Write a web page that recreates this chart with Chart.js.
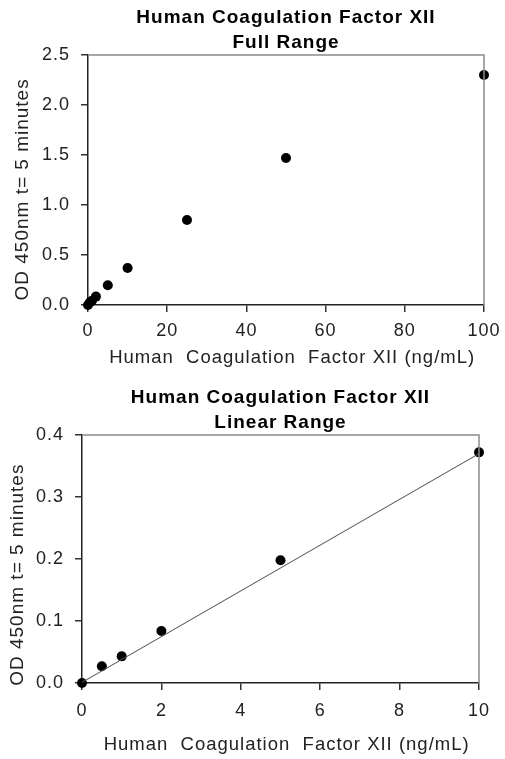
<!DOCTYPE html>
<html>
<head>
<meta charset="utf-8">
<script src="https://cdn.jsdelivr.net/npm/chart.js@4/dist/chart.umd.min.js"></script>
<style>
  html, body { margin: 0; padding: 0; background: #fff; }
  canvas { display: block; }
</style>
</head>
<body>
<canvas id="full" width="505" height="380"></canvas>
<canvas id="linear" width="505" height="379"></canvas>
<script>
// data
const fullConc = [0, 0.5, 1, 2, 5, 10, 25, 50, 100];
const fullOD = [0.0, 0.027, 0.043, 0.084, 0.198, 0.37, 0.85, 1.47, 2.30];

const linConc = [0, 0.5, 1, 2, 5, 10];
const linOD = [0.0, 0.027, 0.043, 0.084, 0.198, 0.372];

const trendConc = [0, 10];
const trendOD = [0.001, 0.370];

const xTitle = "Human  Coagulation  Factor XII (ng/mL)";
const yTitle = "OD 450nm t= 5 minutes";

const FONT = "'Liberation Sans', Arial, sans-serif";

function pts(xs, ys) {
  return xs.map((x, i) => ({ x: x, y: ys[i] }));
}

// reference text is a bit spread out, and the plot box has a grey top/right edge
const boxPlugin = {
  id: "box",
  beforeDraw(chart) {
    chart.ctx.letterSpacing = "1px";
  },
  afterDraw(chart) {
    const a = chart.chartArea;
    const ctx = chart.ctx;
    ctx.save();
    ctx.strokeStyle = "#8a8a8a";
    ctx.lineWidth = 1.5;
    ctx.beginPath();
    ctx.moveTo(a.left, a.top);
    ctx.lineTo(a.right, a.top);
    ctx.lineTo(a.right, a.bottom);
    ctx.stroke();
    ctx.restore();
  }
};

function makeChart(id, cfg) {
  const ctx = document.getElementById(id).getContext("2d");
  return new Chart(ctx, {
    type: "scatter",
    data: { datasets: cfg.datasets },
    plugins: [boxPlugin],
    options: {
      responsive: false,
      animation: false,
      devicePixelRatio: 1,
      layout: { padding: { left: 0, right: cfg.padRight, top: 0, bottom: 0 } },
      plugins: {
        legend: { display: false },
        tooltip: { enabled: false },
        title: {
          display: true,
          fullSize: false,
          text: cfg.title,
          color: "#000",
          font: { family: FONT, size: 19, weight: "bold", lineHeight: 1.316 },
          padding: { top: cfg.titleTop, bottom: 0 }
        }
      },
      scales: {
        x: {
          type: "linear",
          min: cfg.xMin, max: cfg.xMax,
          afterFit(s) {
            s.height = cfg.xHeight;
            s.paddingLeft = 0; s.paddingRight = 0;
          },
          ticks: {
            stepSize: cfg.xStep,
            color: "#222",
            padding: cfg.xTickPad,
            font: { family: FONT, size: 18 },
            maxRotation: 0
          },
          grid: { drawOnChartArea: false, drawTicks: true, tickLength: 7, tickColor: "#333", lineWidth: 1.5 },
          border: { display: true, color: "#222", width: 1.5 },
          title: {
            display: true,
            // leading spaces nudge the centred title right, as in the reference
            text: "  " + xTitle,
            color: "#222",
            font: { family: FONT, size: 18.5 },
            padding: { top: 0, bottom: cfg.xTitleBottom }
          }
        },
        y: {
          type: "linear",
          min: 0, max: cfg.yMax,
          afterFit(s) {
            s.width = cfg.yWidth;
            s.paddingTop = 0; s.paddingBottom = 0;
          },
          ticks: {
            stepSize: cfg.yStep,
            color: "#222",
            padding: 11,
            font: { family: FONT, size: 18 },
            callback: v => v.toFixed(1)
          },
          grid: { drawOnChartArea: false, drawTicks: true, tickLength: 7, tickColor: "#333", lineWidth: 1.5 },
          border: { display: true, color: "#222", width: 1.5 },
          title: {
            display: true,
            // trailing spaces nudge the rotated title down
            text: yTitle + " ".repeat(cfg.yTitleShift),
            color: "#222",
            font: { family: FONT, size: 19 },
            padding: { top: cfg.yTitleLeft, bottom: 0 }
          }
        }
      }
    }
  });
}

const dots = (xs, ys) => ({
  data: pts(xs, ys),
  showLine: false,
  pointRadius: 5,
  pointBackgroundColor: "#000",
  pointBorderColor: "#000",
  pointBorderWidth: 0,
  clip: false
});

makeChart("full", {
  title: ["Human Coagulation Factor XII", "Full Range"],
  titleTop: 5,
  datasets: [dots(fullConc, fullOD)],
  xMin: 0, xMax: 100, xStep: 20,
  yMax: 2.5, yStep: 0.5,
  padRight: 21,
  xHeight: 75,
  xTickPad: 8,
  xTitleBottom: 11,
  yWidth: 88,
  yTitleLeft: 11,
  yTitleShift: 3
});

makeChart("linear", {
  title: ["Human Coagulation Factor XII", "Linear Range"],
  titleTop: 5,
  datasets: [
    {
      data: pts(trendConc, trendOD),
      showLine: true,
      borderColor: "#555",
      borderWidth: 1.1,
      pointRadius: 0,
      clip: false
    },
    dots(linConc, linOD)
  ],
  xMin: 0, xMax: 10, xStep: 2,
  yMax: 0.4, yStep: 0.1,
  padRight: 26,
  xHeight: 76,
  xTickPad: 10,
  xTitleBottom: 3,
  yWidth: 82,
  yTitleLeft: 6,
  yTitleShift: 5
});
</script>
</body>
</html>
